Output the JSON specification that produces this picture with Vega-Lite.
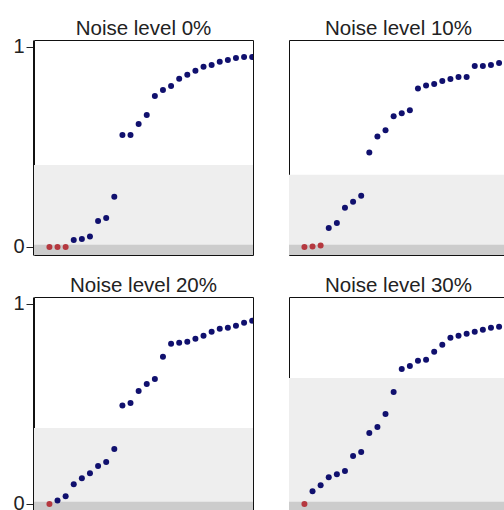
{
  "$schema": "https://vega.github.io/schema/vega-lite/v6.json",
  "padding": {"left": 12, "top": 18, "right": 0, "bottom": 0},
  "data": {
    "values": [
      {"panel": "Noise level 0%", "group": "band", "lo": -0.04, "hi": 0.409},
      {"panel": "Noise level 0%", "group": "floor", "lo": -0.04, "hi": 0.011},
      {"panel": "Noise level 10%", "group": "band", "lo": -0.04, "hi": 0.361},
      {"panel": "Noise level 10%", "group": "floor", "lo": -0.04, "hi": 0.011},
      {"panel": "Noise level 20%", "group": "band", "lo": -0.04, "hi": 0.379},
      {"panel": "Noise level 20%", "group": "floor", "lo": -0.04, "hi": 0.011},
      {"panel": "Noise level 30%", "group": "band", "lo": -0.04, "hi": 0.629},
      {"panel": "Noise level 30%", "group": "floor", "lo": -0.04, "hi": 0.011},

      {"panel": "Noise level 0%", "rank": 1, "value": 0, "group": "zero"},
      {"panel": "Noise level 0%", "rank": 2, "value": 0, "group": "zero"},
      {"panel": "Noise level 0%", "rank": 3, "value": 0, "group": "zero"},
      {"panel": "Noise level 0%", "rank": 4, "value": 0.035, "group": "nonzero"},
      {"panel": "Noise level 0%", "rank": 5, "value": 0.04, "group": "nonzero"},
      {"panel": "Noise level 0%", "rank": 6, "value": 0.052, "group": "nonzero"},
      {"panel": "Noise level 0%", "rank": 7, "value": 0.13, "group": "nonzero"},
      {"panel": "Noise level 0%", "rank": 8, "value": 0.145, "group": "nonzero"},
      {"panel": "Noise level 0%", "rank": 9, "value": 0.251, "group": "nonzero"},
      {"panel": "Noise level 0%", "rank": 10, "value": 0.559, "group": "nonzero"},
      {"panel": "Noise level 0%", "rank": 11, "value": 0.559, "group": "nonzero"},
      {"panel": "Noise level 0%", "rank": 12, "value": 0.614, "group": "nonzero"},
      {"panel": "Noise level 0%", "rank": 13, "value": 0.659, "group": "nonzero"},
      {"panel": "Noise level 0%", "rank": 14, "value": 0.754, "group": "nonzero"},
      {"panel": "Noise level 0%", "rank": 15, "value": 0.784, "group": "nonzero"},
      {"panel": "Noise level 0%", "rank": 16, "value": 0.804, "group": "nonzero"},
      {"panel": "Noise level 0%", "rank": 17, "value": 0.839, "group": "nonzero"},
      {"panel": "Noise level 0%", "rank": 18, "value": 0.86, "group": "nonzero"},
      {"panel": "Noise level 0%", "rank": 19, "value": 0.879, "group": "nonzero"},
      {"panel": "Noise level 0%", "rank": 20, "value": 0.899, "group": "nonzero"},
      {"panel": "Noise level 0%", "rank": 21, "value": 0.908, "group": "nonzero"},
      {"panel": "Noise level 0%", "rank": 22, "value": 0.925, "group": "nonzero"},
      {"panel": "Noise level 0%", "rank": 23, "value": 0.933, "group": "nonzero"},
      {"panel": "Noise level 0%", "rank": 24, "value": 0.943, "group": "nonzero"},
      {"panel": "Noise level 0%", "rank": 25, "value": 0.948, "group": "nonzero"},
      {"panel": "Noise level 0%", "rank": 26, "value": 0.948, "group": "nonzero"},

      {"panel": "Noise level 10%", "rank": 1, "value": 0, "group": "zero"},
      {"panel": "Noise level 10%", "rank": 2, "value": 0.002, "group": "zero"},
      {"panel": "Noise level 10%", "rank": 3, "value": 0.008, "group": "zero"},
      {"panel": "Noise level 10%", "rank": 4, "value": 0.095, "group": "nonzero"},
      {"panel": "Noise level 10%", "rank": 5, "value": 0.12, "group": "nonzero"},
      {"panel": "Noise level 10%", "rank": 6, "value": 0.196, "group": "nonzero"},
      {"panel": "Noise level 10%", "rank": 7, "value": 0.226, "group": "nonzero"},
      {"panel": "Noise level 10%", "rank": 8, "value": 0.256, "group": "nonzero"},
      {"panel": "Noise level 10%", "rank": 9, "value": 0.472, "group": "nonzero"},
      {"panel": "Noise level 10%", "rank": 10, "value": 0.552, "group": "nonzero"},
      {"panel": "Noise level 10%", "rank": 11, "value": 0.582, "group": "nonzero"},
      {"panel": "Noise level 10%", "rank": 12, "value": 0.652, "group": "nonzero"},
      {"panel": "Noise level 10%", "rank": 13, "value": 0.667, "group": "nonzero"},
      {"panel": "Noise level 10%", "rank": 14, "value": 0.682, "group": "nonzero"},
      {"panel": "Noise level 10%", "rank": 15, "value": 0.791, "group": "nonzero"},
      {"panel": "Noise level 10%", "rank": 16, "value": 0.806, "group": "nonzero"},
      {"panel": "Noise level 10%", "rank": 17, "value": 0.813, "group": "nonzero"},
      {"panel": "Noise level 10%", "rank": 18, "value": 0.828, "group": "nonzero"},
      {"panel": "Noise level 10%", "rank": 19, "value": 0.838, "group": "nonzero"},
      {"panel": "Noise level 10%", "rank": 20, "value": 0.848, "group": "nonzero"},
      {"panel": "Noise level 10%", "rank": 21, "value": 0.848, "group": "nonzero"},
      {"panel": "Noise level 10%", "rank": 22, "value": 0.903, "group": "nonzero"},
      {"panel": "Noise level 10%", "rank": 23, "value": 0.903, "group": "nonzero"},
      {"panel": "Noise level 10%", "rank": 24, "value": 0.908, "group": "nonzero"},
      {"panel": "Noise level 10%", "rank": 25, "value": 0.918, "group": "nonzero"},

      {"panel": "Noise level 20%", "rank": 1, "value": 0, "group": "zero"},
      {"panel": "Noise level 20%", "rank": 2, "value": 0.018, "group": "nonzero"},
      {"panel": "Noise level 20%", "rank": 3, "value": 0.038, "group": "nonzero"},
      {"panel": "Noise level 20%", "rank": 4, "value": 0.098, "group": "nonzero"},
      {"panel": "Noise level 20%", "rank": 5, "value": 0.129, "group": "nonzero"},
      {"panel": "Noise level 20%", "rank": 6, "value": 0.154, "group": "nonzero"},
      {"panel": "Noise level 20%", "rank": 7, "value": 0.189, "group": "nonzero"},
      {"panel": "Noise level 20%", "rank": 8, "value": 0.209, "group": "nonzero"},
      {"panel": "Noise level 20%", "rank": 9, "value": 0.274, "group": "nonzero"},
      {"panel": "Noise level 20%", "rank": 10, "value": 0.492, "group": "nonzero"},
      {"panel": "Noise level 20%", "rank": 11, "value": 0.504, "group": "nonzero"},
      {"panel": "Noise level 20%", "rank": 12, "value": 0.564, "group": "nonzero"},
      {"panel": "Noise level 20%", "rank": 13, "value": 0.599, "group": "nonzero"},
      {"panel": "Noise level 20%", "rank": 14, "value": 0.624, "group": "nonzero"},
      {"panel": "Noise level 20%", "rank": 15, "value": 0.735, "group": "nonzero"},
      {"panel": "Noise level 20%", "rank": 16, "value": 0.8, "group": "nonzero"},
      {"panel": "Noise level 20%", "rank": 17, "value": 0.805, "group": "nonzero"},
      {"panel": "Noise level 20%", "rank": 18, "value": 0.81, "group": "nonzero"},
      {"panel": "Noise level 20%", "rank": 19, "value": 0.825, "group": "nonzero"},
      {"panel": "Noise level 20%", "rank": 20, "value": 0.84, "group": "nonzero"},
      {"panel": "Noise level 20%", "rank": 21, "value": 0.86, "group": "nonzero"},
      {"panel": "Noise level 20%", "rank": 22, "value": 0.875, "group": "nonzero"},
      {"panel": "Noise level 20%", "rank": 23, "value": 0.88, "group": "nonzero"},
      {"panel": "Noise level 20%", "rank": 24, "value": 0.89, "group": "nonzero"},
      {"panel": "Noise level 20%", "rank": 25, "value": 0.905, "group": "nonzero"},
      {"panel": "Noise level 20%", "rank": 26, "value": 0.915, "group": "nonzero"},

      {"panel": "Noise level 30%", "rank": 1, "value": 0, "group": "zero"},
      {"panel": "Noise level 30%", "rank": 2, "value": 0.063, "group": "nonzero"},
      {"panel": "Noise level 30%", "rank": 3, "value": 0.093, "group": "nonzero"},
      {"panel": "Noise level 30%", "rank": 4, "value": 0.134, "group": "nonzero"},
      {"panel": "Noise level 30%", "rank": 5, "value": 0.149, "group": "nonzero"},
      {"panel": "Noise level 30%", "rank": 6, "value": 0.164, "group": "nonzero"},
      {"panel": "Noise level 30%", "rank": 7, "value": 0.239, "group": "nonzero"},
      {"panel": "Noise level 30%", "rank": 8, "value": 0.259, "group": "nonzero"},
      {"panel": "Noise level 30%", "rank": 9, "value": 0.354, "group": "nonzero"},
      {"panel": "Noise level 30%", "rank": 10, "value": 0.384, "group": "nonzero"},
      {"panel": "Noise level 30%", "rank": 11, "value": 0.449, "group": "nonzero"},
      {"panel": "Noise level 30%", "rank": 12, "value": 0.559, "group": "nonzero"},
      {"panel": "Noise level 30%", "rank": 13, "value": 0.674, "group": "nonzero"},
      {"panel": "Noise level 30%", "rank": 14, "value": 0.689, "group": "nonzero"},
      {"panel": "Noise level 30%", "rank": 15, "value": 0.715, "group": "nonzero"},
      {"panel": "Noise level 30%", "rank": 16, "value": 0.72, "group": "nonzero"},
      {"panel": "Noise level 30%", "rank": 17, "value": 0.76, "group": "nonzero"},
      {"panel": "Noise level 30%", "rank": 18, "value": 0.795, "group": "nonzero"},
      {"panel": "Noise level 30%", "rank": 19, "value": 0.83, "group": "nonzero"},
      {"panel": "Noise level 30%", "rank": 20, "value": 0.84, "group": "nonzero"},
      {"panel": "Noise level 30%", "rank": 21, "value": 0.85, "group": "nonzero"},
      {"panel": "Noise level 30%", "rank": 22, "value": 0.86, "group": "nonzero"},
      {"panel": "Noise level 30%", "rank": 23, "value": 0.87, "group": "nonzero"},
      {"panel": "Noise level 30%", "rank": 24, "value": 0.88, "group": "nonzero"},
      {"panel": "Noise level 30%", "rank": 25, "value": 0.885, "group": "nonzero"}
    ]
  },
  "facet": {
    "field": "panel",
    "type": "nominal",
    "sort": ["Noise level 0%", "Noise level 10%", "Noise level 20%", "Noise level 30%"],
    "title": null,
    "header": {
      "labelFont": "Liberation Sans",
      "labelFontSize": 20.5,
      "labelColor": "#222222",
      "labelPadding": 1
    }
  },
  "columns": 2,
  "spacing": {"row": 19, "column": 34},
  "spec": {
    "width": 219,
    "height": 215,
    "encoding": {
      "y": {
        "type": "quantitative",
        "scale": {"domain": [-0.04, 1.033], "nice": false, "zero": false},
        "axis": {"values": [0, 1], "format": "d", "grid": false, "title": null}
      },
      "color": {
        "field": "group",
        "type": "nominal",
        "scale": {
          "domain": ["band", "floor", "zero", "nonzero"],
          "range": ["#eeeeee", "#cccccc", "#b5383f", "#10106e"]
        },
        "legend": null
      }
    },
    "layer": [
      {
        "transform": [{"filter": "datum.group === 'band' || datum.group === 'floor'"}],
        "mark": {"type": "rect", "clip": true},
        "encoding": {
          "y": {"field": "lo", "type": "quantitative"},
          "y2": {"field": "hi"}
        }
      },
      {
        "transform": [{"filter": "datum.group === 'zero' || datum.group === 'nonzero'"}],
        "mark": {"type": "circle", "size": 36, "opacity": 1, "clip": true},
        "encoding": {
          "x": {
            "field": "rank",
            "type": "quantitative",
            "scale": {"domain": [-0.9, 26.1], "nice": false, "zero": false},
            "axis": null
          },
          "y": {"field": "value", "type": "quantitative"}
        }
      }
    ]
  },
  "config": {
    "font": "Liberation Sans",
    "view": {"stroke": "#111111", "strokeWidth": 1},
    "axisY": {
      "labelFont": "Liberation Sans",
      "labelFontSize": 20,
      "labelColor": "#222222",
      "labelPadding": 2,
      "tickSize": 7,
      "tickColor": "#222222",
      "domainColor": "#111111"
    }
  }
}
